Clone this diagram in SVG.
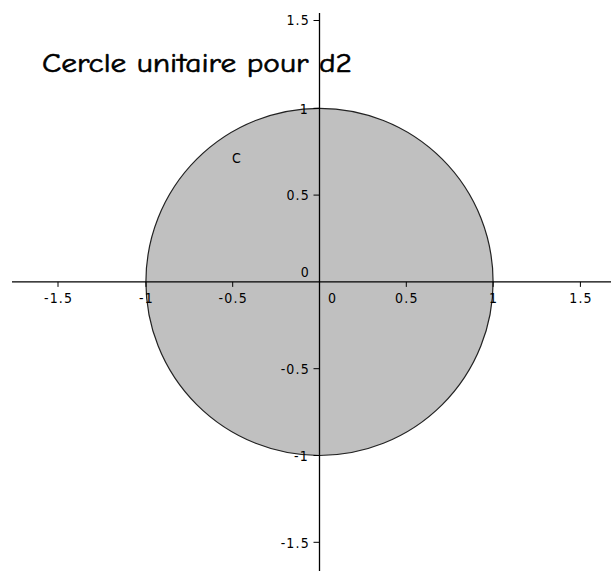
<svg xmlns="http://www.w3.org/2000/svg" width="611" height="571" viewBox="0 0 611 571">
<style>
.ax{stroke:#000;stroke-width:1.3;fill:none}
.tk{stroke:#000;stroke-width:1;fill:none}
.lb{font-family:"DejaVu Sans Condensed","DejaVu Sans",sans-serif;font-size:14px;letter-spacing:1.2px;fill:#000}
.yl{text-anchor:end}
.xl{text-anchor:middle}
</style>
<rect width="611" height="571" fill="#fff"/>
<g id="circle">
<circle cx="319.5" cy="281.9" r="173.6" fill="#c0c0c0" stroke="#222" stroke-width="1.2"/>
</g>
<g id="axes">
<line class="ax" x1="12" y1="281.9" x2="611" y2="281.9"/>
<line class="ax" x1="319.5" y1="13" x2="319.5" y2="571"/>
<path class="tk" d="M58,281.9v5M146,281.9v5M232.7,281.9v5M406.3,281.9v5M493.1,281.9v5M580.4,281.9v5"/>
<path class="tk" d="M319.5,20.5h-6M319.5,108.3h-6M319.5,195.1h-6M319.5,368.7h-6M319.5,455.5h-6M319.5,542.3h-6"/>
</g>
<g id="labels">
<text class="lb xl" x="58.6" y="302.5">-1.5</text>
<text class="lb xl" x="146.6" y="302.5">-1</text>
<text class="lb xl" x="233.3" y="302.5">-0.5</text>
<text class="lb xl" x="332.6" y="302.5">0</text>
<text class="lb xl" x="406.9" y="302.5">0.5</text>
<text class="lb xl" x="493.7" y="302.5">1</text>
<text class="lb xl" x="581" y="302.5">1.5</text>
<text class="lb yl" x="310" y="25">1.5</text>
<text class="lb yl" x="309" y="113.5">1</text>
<text class="lb yl" x="310" y="200">0.5</text>
<text class="lb yl" x="310" y="277">0</text>
<text class="lb yl" x="310" y="373.5">-0.5</text>
<text class="lb yl" x="309" y="461">-1</text>
<text class="lb yl" x="310" y="547.5">-1.5</text>
<text class="lb" x="232" y="163" font-size="13">C</text>
</g>
<g id="title">
<text x="42" y="71.5" font-family="'Comic Sans MS','Comic Neue','DejaVu Sans',sans-serif" font-size="27" textLength="310" lengthAdjust="spacingAndGlyphs" fill="#000" stroke="#000" stroke-width="0.6">Cercle unitaire pour d2</text>
</g>
</svg>
